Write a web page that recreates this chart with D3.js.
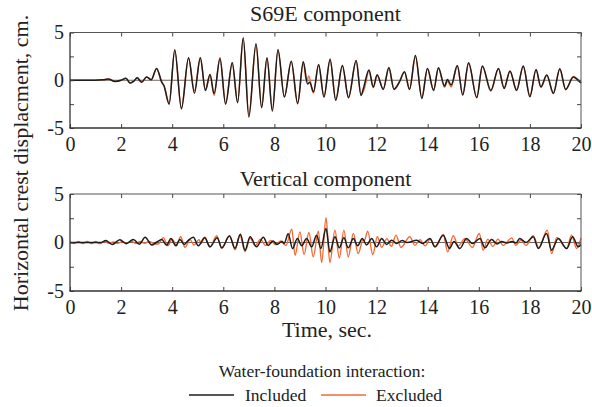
<!DOCTYPE html>
<html><head><meta charset="utf-8">
<script src="https://cdn.jsdelivr.net/npm/d3@7"></script>
<style>
body{margin:0;background:#fff}
svg{display:block}
text{font-family:"Liberation Serif","Times New Roman",Times,serif;fill:#222}
</style>
</head><body>
<svg id="chart" width="592" height="407"></svg>
<script>
// ---------- data ----------
const xTicks = [0, 2, 4, 6, 8, 10, 12, 14, 16, 18, 20];
const yTicks = [-5, -2.5, 0, 2.5, 5];
const yTickLabels = ["-5", "", "0", "", "5"];
const panelTitles = ["S69E component", "Vertical component"];
const seriesNames = ["Included", "Excluded"];
const legendTitle = "Water-foundation interaction:";
const xLabel = "Time, sec.";
const yLabel = "Horizontal crest displacment, cm.";

// S69E component, [time, displacement]
const s69eIncluded = [[0,0],[1.0,0.0],[1.3,0.05],[1.5,0.12],[1.76,-0.12],[2.0,0.0],[2.19,0.2],[2.35,-0.3],[2.5,-0.1],[2.63,0.25],[2.8,-0.2],[3.0,0.35],[3.18,0.05],[3.39,1.24],[3.59,-0.2],[3.68,-0.6],[3.88,-2.5],[4.1,3.2],[4.36,-3.0],[4.64,2.35],[4.87,-1.35],[5.1,2.35],[5.3,-1.07],[5.48,0.6],[5.64,-1.4],[5.87,2.25],[6.09,-2.5],[6.35,1.83],[6.56,-2.35],[6.78,4.45],[7.0,-3.85],[7.28,3.82],[7.5,-2.88],[7.71,2.36],[7.92,-3.23],[8.14,3.23],[8.39,-1.76],[8.66,2.0],[8.91,-2.46],[9.13,1.94],[9.3,-0.4],[9.38,-0.2],[9.53,-1.2],[9.73,1.66],[9.94,-1.76],[10.18,2.2],[10.4,-2.1],[10.66,1.55],[10.9,-1.83],[11.2,2.07],[11.39,-1.59],[11.5,-0.7],[11.7,1.08],[11.87,-0.71],[12.02,0.58],[12.26,-0.96],[12.48,1.33],[12.68,-0.96],[12.9,-0.15],[13.09,0.9],[13.29,-0.96],[13.52,2.58],[13.77,-1.9],[13.99,1.24],[14.23,-1.07],[14.42,1.31],[14.66,-0.61],[14.77,0.08],[14.92,-0.5],[15.16,1.55],[15.37,-1.55],[15.6,1.83],[15.92,-1.83],[16.14,1.48],[16.47,-1.07],[16.77,1.24],[16.99,-0.86],[17.22,0.96],[17.48,-1.07],[17.74,1.48],[18.0,-1.73],[18.24,1.13],[18.43,-0.68],[18.66,0.54],[18.92,-1.38],[19.17,1.2],[19.4,-0.96],[19.7,0.33],[19.85,0.1],[20,-0.3]];
const s69eExcluded = [[0,0],[1.0,0.0],[1.3,0.05],[1.5,0.12],[1.76,-0.12],[2.0,0.0],[2.19,0.2],[2.35,-0.3],[2.5,-0.1],[2.63,0.25],[2.8,-0.2],[3.0,0.35],[3.18,0.05],[3.39,1.2],[3.59,-0.2],[3.68,-0.55],[3.88,-2.4],[4.1,3.1],[4.36,-2.9],[4.64,2.3],[4.87,-1.1],[5.1,2.3],[5.3,-1.0],[5.48,0.55],[5.64,-1.6],[5.87,2.4],[6.09,-2.4],[6.35,1.8],[6.56,-2.3],[6.78,4.3],[7.0,-3.6],[7.28,3.7],[7.5,-2.8],[7.71,2.3],[7.92,-3.1],[8.14,3.1],[8.39,-1.7],[8.66,1.95],[8.91,-2.4],[9.13,1.9],[9.26,-0.2],[9.34,0.45],[9.53,-1.35],[9.73,1.6],[9.94,-1.7],[10.18,2.1],[10.4,-2.0],[10.66,1.5],[10.9,-1.75],[11.2,2.0],[11.39,-1.5],[11.52,-0.9],[11.7,1.0],[11.87,-0.8],[12.02,0.5],[12.26,-0.9],[12.48,1.25],[12.68,-0.9],[12.9,-0.1],[13.09,0.85],[13.29,-0.9],[13.52,2.45],[13.77,-1.8],[13.99,1.2],[14.23,-1.0],[14.42,1.25],[14.66,-0.75],[14.77,-0.1],[14.92,-0.7],[15.16,1.5],[15.37,-1.5],[15.6,1.75],[15.92,-1.75],[16.14,1.42],[16.47,-1.15],[16.77,1.2],[16.99,-0.8],[17.22,0.92],[17.48,-1.0],[17.74,1.42],[18.0,-1.65],[18.24,1.08],[18.43,-0.75],[18.66,0.5],[18.92,-1.3],[19.17,1.15],[19.4,-1.0],[19.7,0.4],[19.85,0.15],[20,-0.25]];

// Vertical component, [time, displacement]
const vertIncluded = [[0,0],[1.2,0.0],[1.4,0.2],[1.65,-0.2],[1.95,0.28],[2.2,-0.12],[2.48,0.32],[2.71,-0.18],[2.94,0.53],[3.2,-0.27],[3.4,0.05],[3.59,0.3],[3.78,-0.28],[3.95,0.41],[4.14,-0.34],[4.3,0.31],[4.47,-0.2],[4.62,0.2],[4.83,0.55],[5.02,-0.34],[5.27,0.48],[5.48,-0.45],[5.76,0.5],[5.94,-0.55],[6.24,0.66],[6.46,-0.6],[6.67,0.85],[6.85,-0.8],[7.05,0.6],[7.3,-0.45],[7.57,0.55],[7.75,-0.3],[7.95,0.15],[8.1,-0.2],[8.3,0.1],[8.38,-0.1],[8.54,0.9],[8.71,-0.62],[8.9,0.41],[9.07,-0.34],[9.26,0.41],[9.46,-0.45],[9.65,0.76],[9.82,-0.62],[10.02,1.45],[10.17,-0.97],[10.37,0.59],[10.54,-0.55],[10.72,0.48],[10.89,-0.55],[11.09,0.41],[11.26,-0.34],[11.44,0.41],[11.61,-0.25],[11.81,0.41],[12.0,-0.45],[12.2,0.41],[12.39,-0.2],[12.59,0.24],[12.78,-0.1],[13.0,0.2],[13.2,0.0],[13.57,0.24],[13.8,-0.1],[14.09,0.41],[14.28,-0.45],[14.61,0.76],[14.85,-0.62],[15.03,0.1],[15.26,-0.62],[15.52,0.41],[15.75,-0.1],[16.05,0.41],[16.24,-0.55],[16.5,0.31],[16.72,-0.15],[16.9,0.1],[17.1,-0.05],[17.3,0.1],[17.45,-0.05],[17.6,0.41],[17.85,0.0],[18.13,0.59],[18.33,-0.62],[18.65,0.93],[18.85,-0.79],[19.11,0.41],[19.44,-0.62],[19.67,0.59],[19.89,-0.45],[20,-0.2]];
const vertExcluded = [[0,0.05],[0.17,-0.12],[0.33,0.12],[0.5,-0.12],[0.67,0.12],[0.84,-0.12],[1.0,0.1],[1.17,-0.12],[1.35,0.1],[1.52,-0.08],[1.7,0.06],[1.87,-0.1],[2.05,0.1],[2.22,-0.1],[2.4,0.15],[2.57,-0.12],[2.75,0.12],[2.92,-0.08],[3.1,0.1],[3.28,-0.1],[3.45,-0.15],[3.65,0.5],[3.83,-0.35],[4.0,0.35],[4.17,-0.3],[4.33,0.6],[4.5,-0.5],[4.7,0.3],[4.85,-0.25],[5.05,0.3],[5.13,-0.1],[5.28,0.55],[5.48,-0.45],[5.74,0.7],[5.94,-0.6],[6.25,0.7],[6.46,-0.75],[6.65,0.8],[6.85,-0.95],[7.05,0.45],[7.25,-0.35],[7.45,0.35],[7.65,-0.3],[7.85,0.2],[8.05,-0.2],[8.25,0.15],[8.45,-0.3],[8.68,1.38],[8.81,-1.31],[9.0,1.1],[9.16,-1.24],[9.35,1.03],[9.52,-1.48],[9.72,1.17],[9.85,-2.07],[10.02,2.55],[10.17,-2.07],[10.37,1.28],[10.54,-1.59],[10.72,1.28],[10.89,-1.48],[11.09,0.93],[11.28,-1.14],[11.47,0.3],[11.52,0.2],[11.65,1.17],[11.85,-1.24],[12.03,0.59],[12.2,-0.5],[12.4,0.4],[12.58,-0.4],[12.76,0.76],[12.95,-0.5],[13.3,0.59],[13.5,-0.3],[13.7,0.3],[13.9,-0.35],[14.1,0.35],[14.3,-0.45],[14.61,0.83],[14.78,-0.97],[15.0,0.69],[15.2,-0.35],[15.45,0.4],[15.75,-0.5],[16.02,0.93],[16.17,-0.79],[16.35,0.35],[16.55,-0.4],[16.75,0.35],[16.95,-0.3],[17.29,0.48],[17.45,-0.3],[17.65,0.25],[17.85,-0.3],[18.13,0.69],[18.35,-0.55],[18.68,1.28],[18.85,-1.14],[19.05,0.5],[19.44,-0.62],[19.63,0.76],[19.83,-0.62],[20,0.48]];

const panels = [
  {title: panelTitles[0], included: s69eIncluded, excluded: s69eExcluded, top: 32.5, bottom: 128, titleY: 21},
  {title: panelTitles[1], included: vertIncluded, excluded: vertExcluded, top: 194, bottom: 291, titleY: 186}
];
const colors = {Included: "#1c1c1c", Excluded: "#f26a35"};

// ---------- drawing ----------
const svg = d3.select("#chart");
const left = 70, right = 581;
const x = d3.scaleLinear().domain([0, 20]).range([left, right]);

panels.forEach(p => {
  const y = d3.scaleLinear().domain([-5, 5]).range([p.bottom, p.top]);
  const g = svg.append("g");

  // zero reference line
  g.append("line").attr("x1", left).attr("x2", right)
    .attr("y1", y(0)).attr("y2", y(0))
    .attr("stroke", "#666").attr("stroke-width", 1);

  const line = d3.line().x(d => x(d[0])).y(d => y(d[1])).curve(d3.curveMonotoneX);
  g.append("path").datum(p.excluded).attr("d", line)
    .attr("fill", "none").attr("stroke", colors.Excluded).attr("stroke-width", 1.4);
  g.append("path").datum(p.included).attr("d", line)
    .attr("fill", "none").attr("stroke", colors.Included).attr("stroke-width", 1.5);

  // axes (inward ticks)
  const ax = [
    d3.axisBottom(x).tickValues(xTicks).tickSize(-4).tickPadding(9).tickFormat(d3.format("d")),
    d3.axisTop(x).tickValues(xTicks).tickSize(-4).tickFormat(""),
    d3.axisLeft(y).tickValues(yTicks).tickSize(-4).tickPadding(6).tickFormat((d, i) => yTickLabels[i]),
    d3.axisRight(y).tickValues(yTicks).tickSize(-4).tickFormat("")
  ];
  const pos = [[0, p.bottom], [0, p.top], [left, 0], [right, 0]];
  ax.forEach((a, i) => {
    const ag = g.append("g").attr("transform", `translate(${pos[i][0]},${pos[i][1]})`).call(a);
    ag.select(".domain").remove();
    ag.selectAll(".tick line").attr("stroke", "#444");
    ag.selectAll(".tick text").attr("font-size", 20).attr("fill", "#222");
  });

  // frame
  g.append("line").attr("x1", left).attr("x2", right).attr("y1", p.top).attr("y2", p.top).attr("stroke", "#555").attr("stroke-width", 1);
  g.append("line").attr("x1", right).attr("x2", right).attr("y1", p.top).attr("y2", p.bottom).attr("stroke", "#555").attr("stroke-width", 1);
  g.append("line").attr("x1", left).attr("x2", left).attr("y1", p.top).attr("y2", p.bottom).attr("stroke", "#333").attr("stroke-width", 1.3);
  g.append("line").attr("x1", left - 0.6).attr("x2", right + 0.5).attr("y1", p.bottom).attr("y2", p.bottom).attr("stroke", "#333").attr("stroke-width", 1.6);

  // title
  g.append("text").attr("x", (left + right) / 2).attr("y", p.titleY)
    .attr("text-anchor", "middle").attr("font-size", 22).text(p.title);
});

// axis titles
svg.append("text").attr("x", 327).attr("y", 336.5).attr("text-anchor", "middle")
  .attr("font-size", 22).text(xLabel);
svg.append("text").attr("transform", "translate(27.5,163) rotate(-90)")
  .attr("text-anchor", "middle").attr("font-size", 22).text(yLabel);

// legend
svg.append("text").attr("x", 322).attr("y", 376.5).attr("text-anchor", "middle")
  .attr("font-size", 17.5).text(legendTitle);
const legendItems = [{name: seriesNames[0], x1: 189, tx: 245}, {name: seriesNames[1], x1: 321, tx: 376}];
legendItems.forEach(it => {
  svg.append("line").attr("x1", it.x1).attr("x2", it.x1 + 45).attr("y1", 395).attr("y2", 395)
    .attr("stroke", colors[it.name]).attr("stroke-width", 1.6);
  svg.append("text").attr("x", it.tx).attr("y", 400.5).attr("font-size", 17.5).text(it.name);
});
</script>
</body></html>
